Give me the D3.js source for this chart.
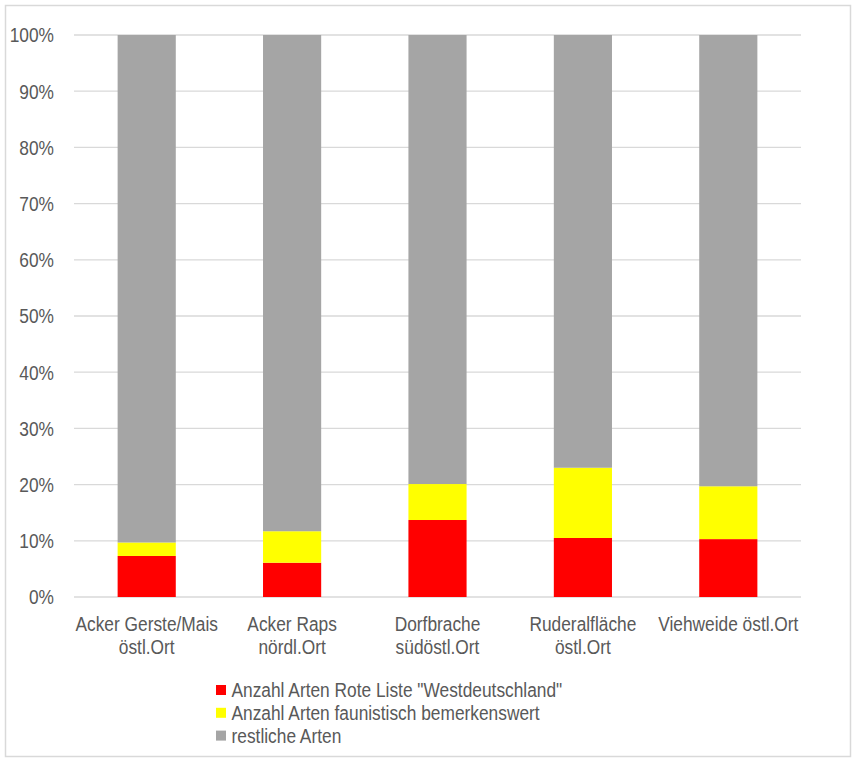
<!DOCTYPE html>
<html><head><meta charset="utf-8">
<script src="https://cdn.jsdelivr.net/npm/d3@7"></script>
<style>
html,body{margin:0;padding:0;background:#fff;}
text{font-family:"Liberation Sans Narrow","Arial Narrow","Liberation Sans",Arial,sans-serif;fill:#595959;}
</style></head>
<body>
<svg id="chart" width="855" height="758"></svg>
<script>
const categories = ["Acker Gerste/Mais\nöstl.Ort", "Acker Raps\nnördl.Ort", "Dorfbrache\nsüdöstl.Ort", "Ruderalfläche\nöstl.Ort", "Viehweide östl.Ort"];
const seriesNames = ["Anzahl Arten Rote Liste \"Westdeutschland\"", "Anzahl Arten faunistisch bemerkenswert", "restliche Arten"];
const rotListe = [7.3, 6.1, 13.7, 10.5, 10.3];
const faunistisch = [2.4, 5.6, 6.4, 12.5, 9.4];
const restliche = [90.3, 88.3, 79.9, 77.0, 80.3];
const colors = ["#ff0000", "#ffff00", "#a5a5a5"];
const yTicks = [0, 0.1, 0.2, 0.3, 0.4, 0.5, 0.6, 0.7, 0.8, 0.9, 1.0];

(function() {
const FS = 21, SX = 0.825;
const svg = d3.select("#chart");
svg.append("rect").attr("x", 5.5).attr("y", 5.5).attr("width", 845).attr("height", 751)
  .attr("fill", "#fff").attr("stroke", "#d9d9d9").attr("stroke-width", 1.5);

const pL = 74, pR = 801, pT = 35, pB = 597;
const x = d3.scaleBand().domain(categories).range([pL, pR]).paddingInner(0.6).paddingOuter(0.3);
const y = d3.scaleLinear().domain([0, 1]).range([pB, pT]);

svg.append("g").selectAll("line").data(yTicks).join("line")
  .attr("x1", pL).attr("x2", pR)
  .attr("y1", d => y(d)).attr("y2", d => y(d))
  .attr("stroke", "#d9d9d9").attr("stroke-width", 1.3);

svg.append("g").selectAll("text").data(yTicks).join("text")
  .attr("transform", d => `translate(54,${y(d)}) scale(${SX},1)`)
  .attr("dy", "0.35em")
  .attr("text-anchor", "end").attr("font-size", FS)
  .text(d => d3.format(".0%")(d));

const rows = categories.map((c, i) => {
  const tot = rotListe[i] + faunistisch[i] + restliche[i];
  return {cat: c, s0: rotListe[i] / tot, s1: faunistisch[i] / tot, s2: restliche[i] / tot};
});
const stack = d3.stack().keys(["s0", "s1", "s2"])(rows);
svg.append("g").selectAll("g").data(stack).join("g")
  .attr("fill", (d, i) => colors[i])
  .selectAll("rect").data(d => d).join("rect")
  .attr("x", d => x(d.data.cat))
  .attr("width", x.bandwidth())
  .attr("y", d => y(d[1]))
  .attr("height", d => y(d[0]) - y(d[1]));

const xl = svg.append("g").selectAll("text").data(categories).join("text")
  .attr("text-anchor", "middle").attr("font-size", FS)
  .attr("transform", d => `translate(${x(d) + x.bandwidth() / 2},631) scale(${SX},1)`);
xl.selectAll("tspan").data(d => d.split("\n")).join("tspan")
  .attr("x", 0)
  .attr("dy", (d, i) => i === 0 ? 0 : 23)
  .text(d => d);

const lg = svg.append("g").selectAll("g").data(seriesNames).join("g")
  .attr("transform", (d, i) => `translate(216, ${690 + i * 22.8})`);
lg.append("rect").attr("x", 0).attr("y", -5).attr("width", 10).attr("height", 10)
  .attr("fill", (d, i) => colors[i]);
lg.append("text").attr("transform", `translate(15.5,0) scale(${SX},1)`)
  .attr("dy", "0.33em").attr("font-size", FS)
  .text(d => d);
})();
</script>
</body></html>
